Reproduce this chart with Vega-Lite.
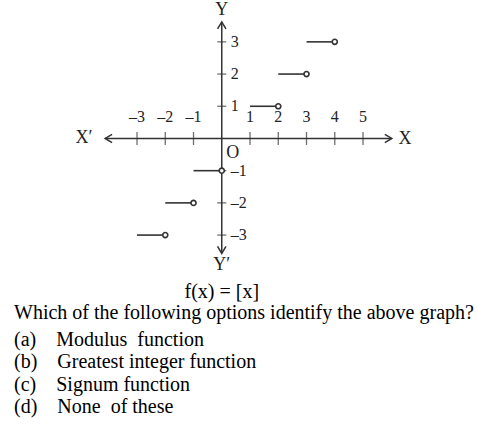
{
  "$schema": "https://vega.github.io/schema/vega-lite/v6.json",
  "width": 477,
  "height": 303,
  "padding": 0,
  "background": "white",
  "config": {"view": {"stroke": null}, "font": "Liberation Serif"},
  "title": {
    "text": "Which of the following options identify the above graph?",
    "subtitle": ["(a)\u2003Modulus\u00a0 function", "(b)\u2003Greatest integer function", "(c)\u2003Signum function", "(d)\u2003None\u00a0 of these"],
    "orient": "bottom",
    "anchor": "start",
    "frame": "group",
    "dx": 14,
    "offset": 0,
    "font": "Liberation Serif",
    "fontSize": 20,
    "fontWeight": "normal",
    "color": "#000",
    "subtitleFont": "Liberation Serif",
    "subtitleFontSize": 20,
    "subtitleColor": "#000",
    "subtitleLineHeight": 22.4,
    "subtitlePadding": 7
  },
  "datasets": {
    "axes": [
      {"x": -4.13, "x2": 6.02, "y": 0, "y2": 0},
      {"x": 0, "x2": 0, "y": -3.57, "y2": 3.62}
    ],
    "arrows": [
      {"x": -4.13, "y": 0, "dir": "left"},
      {"x": 6.02, "y": 0, "dir": "right"},
      {"x": 0, "y": 3.62, "dir": "up"},
      {"x": 0, "y": -3.57, "dir": "down"}
    ],
    "xticks": [
      {"v": -3, "label": "–3"}, {"v": -2, "label": "–2"}, {"v": -1, "label": "–1"},
      {"v": 1, "label": "1"}, {"v": 2, "label": "2"}, {"v": 3, "label": "3"},
      {"v": 4, "label": "4"}, {"v": 5, "label": "5"}
    ],
    "yticks": [
      {"v": -3, "label": "–3"}, {"v": -2, "label": "–2"}, {"v": -1, "label": "–1"},
      {"v": 1, "label": "1"}, {"v": 2, "label": "2"}, {"v": 3, "label": "3"}
    ],
    "names": [
      {"x": -4.88, "y": 0, "label": "X′"},
      {"x": 6.49, "y": -0.03, "label": "X"},
      {"x": 0, "y": 3.99, "label": "Y"},
      {"x": 0, "y": -3.93, "label": "Y′"},
      {"x": 0.39, "y": -0.46, "label": "O"}
    ],
    "caption": [
      {"x": 0, "y": -4.78, "label": "f(x) = [x]"}
    ],
    "segments": [
      {"x": -3, "x2": -2, "y": -3},
      {"x": -2, "x2": -1, "y": -2},
      {"x": -1, "x2": 0, "y": -1},
      {"x": 1, "x2": 2, "y": 1},
      {"x": 2, "x2": 3, "y": 2},
      {"x": 3, "x2": 4, "y": 3}
    ]
  },
  "layer": [
    {
      "data": {"name": "axes"},
      "mark": {"type": "rule", "color": "#333", "strokeWidth": 1.5},
      "encoding": {
        "x": {
          "field": "x", "type": "quantitative",
          "scale": {"domain": [-7.85, 9.035], "nice": false, "zero": false},
          "axis": null
        },
        "x2": {"field": "x2"},
        "y": {"field": "y", "type": "quantitative",
              "scale": {"domain": [-5.109, 4.3], "nice": false, "zero": false}, "axis": null},
        "y2": {"field": "y2"}
      }
    },
    {
      "data": {"name": "arrows"},
      "mark": {"type": "point", "filled": false, "color": "#333", "strokeWidth": 1.5, "size": 196, "opacity": 1},
      "encoding": {
        "x": {"field": "x", "type": "quantitative", "axis": null},
        "y": {"field": "y", "type": "quantitative", "axis": null},
        "shape": {"field": "dir", "type": "nominal", "legend": null,
                  "scale": {"domain": ["left", "right", "up", "down"],
                            "range": ["M1,-0.6L0,0L1,0.6", "M-1,-0.6L0,0L-1,0.6", "M-0.6,1L0,0L0.6,1", "M-0.6,-1L0,0L0.6,-1"]}}
      }
    },
    {
      "data": {"name": "xticks"},
      "mark": {"type": "tick", "orient": "vertical", "color": "#333", "thickness": 1.3, "size": 13},
      "encoding": {
        "x": {"field": "v", "type": "quantitative", "axis": null},
        "y": {"datum": 0, "type": "quantitative", "axis": null}
      }
    },
    {
      "data": {"name": "xticks"},
      "mark": {"type": "text", "font": "Liberation Serif", "fontSize": 16, "dy": -21, "color": "#222", "baseline": "middle"},
      "encoding": {
        "x": {"field": "v", "type": "quantitative", "axis": null},
        "y": {"datum": 0, "type": "quantitative", "axis": null},
        "text": {"field": "label"}
      }
    },
    {
      "data": {"name": "yticks"},
      "mark": {"type": "tick", "orient": "horizontal", "color": "#333", "thickness": 1.3, "size": 9},
      "encoding": {
        "x": {"datum": 0, "type": "quantitative", "axis": null},
        "y": {"field": "v", "type": "quantitative", "axis": null}
      }
    },
    {
      "data": {"name": "yticks"},
      "mark": {"type": "text", "font": "Liberation Serif", "fontSize": 16, "dx": 9, "align": "left", "color": "#222", "baseline": "middle"},
      "encoding": {
        "x": {"datum": 0, "type": "quantitative", "axis": null},
        "y": {"field": "v", "type": "quantitative", "axis": null},
        "text": {"field": "label"}
      }
    },
    {
      "data": {"name": "names"},
      "mark": {"type": "text", "font": "Liberation Serif", "fontSize": 18, "color": "#222", "baseline": "middle"},
      "encoding": {
        "x": {"field": "x", "type": "quantitative", "axis": null},
        "y": {"field": "y", "type": "quantitative", "axis": null},
        "text": {"field": "label"}
      }
    },
    {
      "data": {"name": "caption"},
      "mark": {"type": "text", "font": "Liberation Serif", "fontSize": 20, "color": "#000", "baseline": "middle"},
      "encoding": {
        "x": {"field": "x", "type": "quantitative", "axis": null},
        "y": {"field": "y", "type": "quantitative", "axis": null},
        "text": {"field": "label"}
      }
    },
    {
      "data": {"name": "segments"},
      "mark": {"type": "rule", "color": "#333", "strokeWidth": 1.6},
      "encoding": {
        "x": {"field": "x", "type": "quantitative", "axis": null},
        "x2": {"field": "x2"},
        "y": {"field": "y", "type": "quantitative", "axis": null}
      }
    },
    {
      "data": {"name": "segments"},
      "mark": {"type": "point", "shape": "circle", "filled": false, "fill": "white", "color": "#333", "strokeWidth": 1.6, "size": 26, "opacity": 1},
      "encoding": {
        "x": {"field": "x2", "type": "quantitative", "axis": null},
        "y": {"field": "y", "type": "quantitative", "axis": null}
      }
    }
  ]
}
